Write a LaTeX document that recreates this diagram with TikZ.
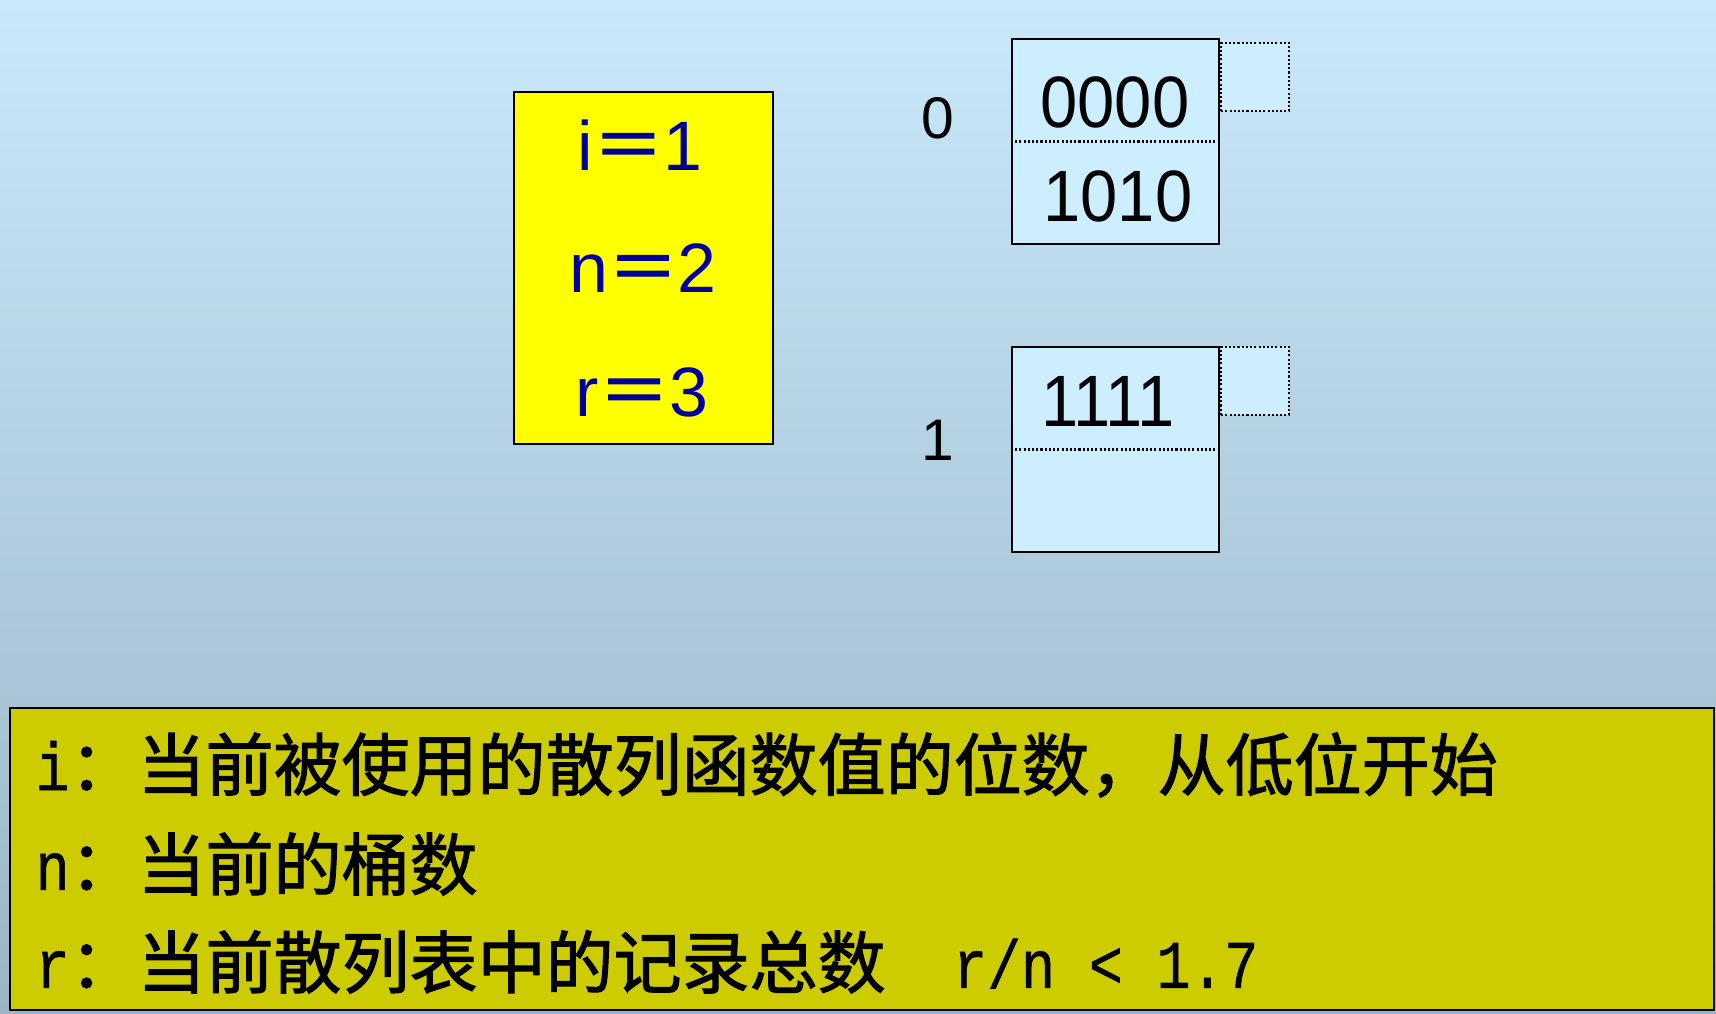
\documentclass[tikz,border=0pt]{standalone}
\usepackage{fontspec}
\setmainfont{Liberation Sans}
\newfontfamily\cjk[FakeBold=1.6]{Noto Sans CJK SC}
\newfontfamily\halfmono[FakeStretch=0.83,FakeBold=0.8]{Liberation Mono}
\newfontfamily\keyfont[FakeStretch=0.92]{Liberation Sans}
\usetikzlibrary{positioning}
\definecolor{bgtop}{RGB}{201,232,250}
\definecolor{bgbot}{RGB}{155,181,196}
\definecolor{pyellow}{RGB}{255,255,0}
\definecolor{pblue}{RGB}{0,0,153}
\definecolor{bucketfill}{RGB}{204,238,255}
\definecolor{notefill}{RGB}{204,204,0}

\begin{document}
\begin{tikzpicture}
    \tikzstyle{param}=[font=\fontsize{19.9}{24}\selectfont, text=pblue, inner sep=0]
    \tikzstyle{bucket}=[rectangle, draw, line width=0.6pt, fill=bucketfill,
    minimum width=2.07cm, minimum height=2.05cm, inner sep=0]
    \tikzstyle{overflow}=[rectangle, draw, line width=0.6pt, dash pattern=on 0.6pt off 0.6pt,
    fill=bucketfill, minimum width=0.68cm, minimum height=0.68cm, inner sep=0]
    \tikzstyle{key}=[font=\keyfont\fontsize{20.7}{24}\selectfont, inner sep=0]
    \tikzstyle{index}=[font=\fontsize{16.7}{20}\selectfont, inner sep=0]
    \tikzstyle{note}=[font=\fontsize{19.35}{23}\selectfont, inner sep=0, anchor=west]

    % Background
    \useasboundingbox (0, 0) rectangle (17.16, 10.14);
    \shade [top color=bgtop, bottom color=bgbot] (0, 0) rectangle (17.16, 10.14);

    % Parameters box
    \node [rectangle, draw, line width=0.6pt, fill=pyellow, minimum width=2.59cm,
      minimum height=3.52cm] (params) at (6.435, 7.46) {};
    \node [param] (pi) at (6.40, 8.69) {i{\cjk ＝}1};
    \node [param] (pn) at (6.43, 7.46) {n{\cjk ＝}2};
    \node [param] (pr) at (6.42, 6.22) {r{\cjk ＝}3};

    % Bucket 0
    \node [bucket] (b0) at (11.155, 8.725) {};
    \draw [line width=0.6pt, dash pattern=on 0.6pt off 0.6pt] (b0.west) -- (b0.east);
    \node [overflow, anchor=north west] (o0) at ([yshift=-0.04cm]b0.north east) {};
    \node [key] (k00) at (11.15, 9.12) {0000};
    \node [key] (k01) at (11.18, 8.18) {1010};
    \node [index] (i0) at (9.38, 8.96) {0};

    % Bucket 1
    \node [bucket] (b1) at (11.155, 5.645) {};
    \draw [line width=0.6pt, dash pattern=on 0.6pt off 0.6pt] (b1.west) -- (b1.east);
    \node [overflow, anchor=north west] (o1) at (b1.north east) {};
    \node [key] (k10) at (11.08, 6.13) {1111};
    \node [index] (i1) at (9.38, 5.74) {1};

    % Legend
    \node [rectangle, draw, line width=0.6pt, fill=notefill, minimum width=17.04cm,
      minimum height=3.02cm] (legend) at (8.62, 1.55) {};
    \node [note] (li) at (0.35, 2.49) {{\halfmono i}{\cjk ：当前被使用的散列函数值的位数，从低位开始}};
    \node [note] (ln) at (0.35, 1.50) {{\halfmono n}{\cjk ：当前的桶数}};
    \node [note] (lr) at (0.35, 0.52) {{\halfmono r}{\cjk ：当前散列表中的记录总数}{\halfmono\ \ r/n < 1.7}};

  \end{tikzpicture}
\end{document}
